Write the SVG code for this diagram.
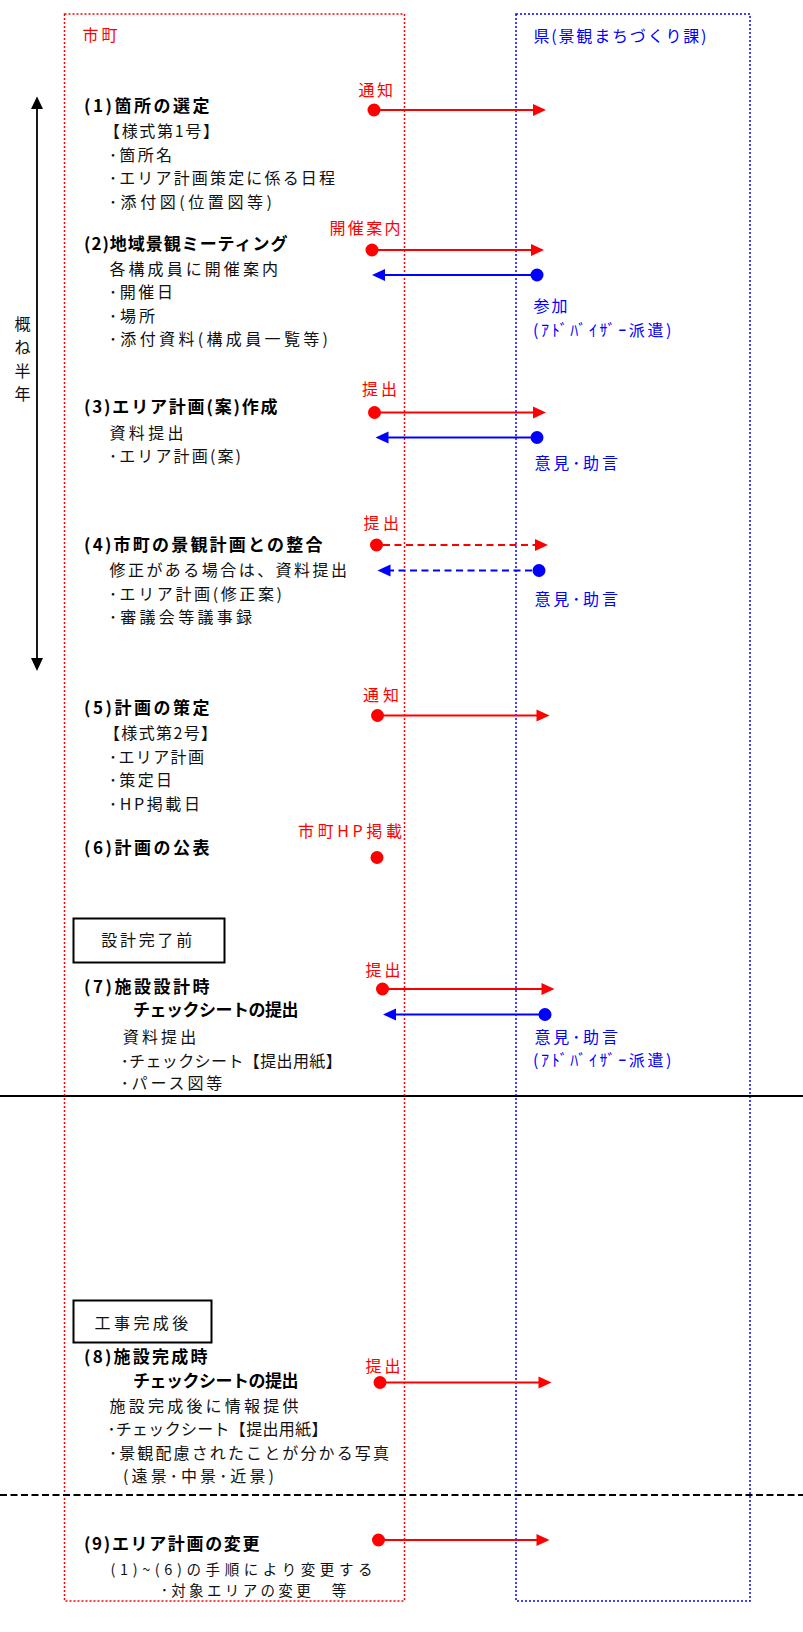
<svg xmlns="http://www.w3.org/2000/svg" width="803" height="1632" viewBox="0 0 803 1632">
<defs>
<style>
text{font-family:"Noto Sans CJK JP","Noto Sans CJK SC",sans-serif;font-size:16px;letter-spacing:2px;fill:#111}
.t{font-weight:700;font-size:17px;letter-spacing:1.5px;fill:#000}
.r{fill:#ff0000;letter-spacing:1px}
.b{fill:#0000ff;letter-spacing:1.5px}
.s{font-size:14.5px}
.rl{stroke:#ff0000;stroke-width:2;fill:none}
.bl{stroke:#0000ff;stroke-width:2;fill:none}
.dash{stroke-dasharray:7 4.5}
.rf{fill:#ff0000}
.bf{fill:#0000ff}
.box{fill:#fff;stroke:#000;stroke-width:2}
.lane{fill:none;stroke-width:1.5;stroke-dasharray:2 2}
</style>
</defs>
<rect width="803" height="1632" fill="#fff"/>

<g id="lane-shichou">
<rect x="64.5" y="14" width="340" height="1587" class="lane" stroke="#ff0000"/>
<text x="82.5" y="41" class="r" textLength="36">市町</text>
</g>
<g id="lane-ken">
<rect x="516" y="14" width="234" height="1587" class="lane" stroke="#0000ff"/>
<text x="533.5" y="42" class="b" textLength="174.5">県(景観まちづくり課)</text>
</g>

<g id="period">
<line x1="37" y1="108" x2="37" y2="660" stroke="#000" stroke-width="1.8"/>
<polygon points="37,96.5 31,109 43,109" fill="#000"/>
<polygon points="37,671 31,658 43,658" fill="#000"/>
<text x="22.5" y="329.5" text-anchor="middle" style="letter-spacing:0">概</text>
<text x="22.5" y="353" text-anchor="middle" style="letter-spacing:0">ね</text>
<text x="22.5" y="376.5" text-anchor="middle" style="letter-spacing:0">半</text>
<text x="22.5" y="400" text-anchor="middle" style="letter-spacing:0">年</text>
</g>

<g id="step1">
<text x="84" y="111.5" class="t" textLength="127">(1)箇所の選定</text>
<text x="104" y="137" textLength="117">【様式第1号】</text>
<text x="109" y="160.5" textLength="65">･箇所名</text>
<text x="109" y="184" textLength="228">･エリア計画策定に係る日程</text>
<text x="109" y="207.5" textLength="165">･添付図(位置図等)</text>
<text x="358.5" y="96" class="r" textLength="35.5">通知</text>
</g>

<g id="step2">
<text x="84" y="250" class="t" textLength="205">(2)地域景観ミーティング</text>
<text x="109.5" y="274.5" textLength="170.5">各構成員に開催案内</text>
<text x="109" y="298" textLength="66">･開催日</text>
<text x="109" y="321.5" textLength="48">･場所</text>
<text x="109" y="345" textLength="221">･添付資料(構成員一覧等)</text>
<text x="329.5" y="234" class="r" textLength="72">開催案内</text>
<text x="533.5" y="312" class="b" textLength="35.5">参加</text>
<text x="533" y="335.5" class="b" textLength="140">(ｱﾄﾞﾊﾞｲｻﾞｰ派遣)</text>
</g>

<g id="step3">
<text x="84" y="413" class="t" textLength="195">(3)エリア計画(案)作成</text>
<text x="109.5" y="439" textLength="76">資料提出</text>
<text x="109" y="462" textLength="134">･エリア計画(案)</text>
<text x="362" y="394.5" class="r" textLength="36">提出</text>
<text x="534.5" y="468.5" class="b" textLength="85">意見･助言</text>
</g>

<g id="step4">
<text x="84" y="550.5" class="t" textLength="240">(4)市町の景観計画との整合</text>
<text x="109.5" y="575.5" textLength="239.5">修正がある場合は、資料提出</text>
<text x="109" y="599.5" textLength="175">･エリア計画(修正案)</text>
<text x="109" y="622.5" textLength="145">･審議会等議事録</text>
<text x="363.5" y="528.5" class="r" textLength="36.5">提出</text>
<text x="534.5" y="604.5" class="b" textLength="85">意見･助言</text>
</g>

<g id="step5">
<text x="84" y="714" class="t" textLength="127">(5)計画の策定</text>
<text x="104" y="738.5" textLength="115">【様式第2号】</text>
<text x="109" y="762.5" textLength="97">･エリア計画</text>
<text x="109" y="786" textLength="65">･策定日</text>
<text x="109" y="809.5" textLength="93">･HP掲載日</text>
<text x="363" y="700.5" class="r" textLength="37">通知</text>
</g>

<g id="step6">
<text x="84" y="854" class="t" textLength="127">(6)計画の公表</text>
<text x="298" y="837" class="r" textLength="105">市町HP掲載</text>
</g>

<g id="box-sekkei">
<rect x="73.5" y="918.5" width="151" height="44" class="box"/>
<text x="101.2" y="946" textLength="93">設計完了前</text>
</g>

<g id="step7">
<text x="84" y="992.5" class="t" textLength="127">(7)施設設計時</text>
<text x="133" y="1015.5" class="t" textLength="167">チェックシートの提出</text>
<text x="122.8" y="1042.5" textLength="75.5">資料提出</text>
<text x="120.7" y="1066.5" textLength="223">･チェックシート【提出用紙】</text>
<text x="120.7" y="1088.5" textLength="103.6">･パース図等</text>
<text x="365.5" y="975.5" class="r" textLength="36">提出</text>
<text x="534.5" y="1042.5" class="b" textLength="85">意見･助言</text>
<text x="533" y="1065.5" class="b" textLength="140">(ｱﾄﾞﾊﾞｲｻﾞｰ派遣)</text>
</g>

<g id="box-kouji">
<rect x="73.5" y="1300.5" width="138" height="42" class="box"/>
<text x="94.5" y="1328.5" textLength="95.8">工事完成後</text>
</g>

<g id="step8">
<text x="84" y="1363" class="t" textLength="125">(8)施設完成時</text>
<text x="133" y="1386.5" class="t" textLength="167">チェックシートの提出</text>
<text x="109.5" y="1412" textLength="191">施設完成後に情報提供</text>
<text x="107.4" y="1434.5" textLength="222">･チェックシート【提出用紙】</text>
<text x="109" y="1458.5" textLength="282">･景観配慮されたことが分かる写真</text>
<text x="123" y="1482" textLength="153">(遠景･中景･近景)</text>
<text x="365.5" y="1371.5" class="r" textLength="36">提出</text>
</g>

<g id="step9">
<text x="84" y="1550" class="t" textLength="177">(9)エリア計画の変更</text>
<text x="110.5" y="1575" class="s" textLength="264">(1)~(6)の手順により変更する</text>
<text x="160.7" y="1596" class="s" textLength="187.6">･対象エリアの変更　等</text>
</g>

<g id="separators">
<line x1="0" y1="1096" x2="803" y2="1096" stroke="#000" stroke-width="2"/>
<line x1="0" y1="1495" x2="803" y2="1495" stroke="#000" stroke-width="2" stroke-dasharray="7 3.5"/>
</g>

<g id="connectors">
<line x1="374" y1="110" x2="534" y2="110" class="rl"/>
<circle cx="374" cy="110" r="6.5" class="rf"/>
<polygon points="533,104 546,110 533,116" class="rf"/>
<line x1="372" y1="250" x2="532" y2="250" class="rl"/>
<circle cx="372" cy="250" r="6.5" class="rf"/>
<polygon points="531,244 544,250 531,256" class="rf"/>
<line x1="537" y1="275" x2="384" y2="275" class="bl"/>
<circle cx="537" cy="275" r="6.5" class="bf"/>
<polygon points="385,269 372,275 385,281" class="bf"/>
<line x1="374.5" y1="412.5" x2="534" y2="412.5" class="rl"/>
<circle cx="374.5" cy="412.5" r="6.5" class="rf"/>
<polygon points="533,406.5 546,412.5 533,418.5" class="rf"/>
<line x1="537" y1="437.5" x2="387" y2="437.5" class="bl"/>
<circle cx="537" cy="437.5" r="6.5" class="bf"/>
<polygon points="388.5,431.5 375.5,437.5 388.5,443.5" class="bf"/>
<line x1="383" y1="545" x2="535" y2="545" class="rl dash"/>
<circle cx="376.5" cy="545" r="6.5" class="rf"/>
<polygon points="535,539 548,545 535,551" class="rf"/>
<line x1="532" y1="570.5" x2="389" y2="570.5" class="bl dash"/>
<circle cx="539" cy="570.5" r="6.5" class="bf"/>
<polygon points="390.5,564.5 377.5,570.5 390.5,576.5" class="bf"/>
<line x1="377.5" y1="715.5" x2="537" y2="715.5" class="rl"/>
<circle cx="377.5" cy="715.5" r="6.5" class="rf"/>
<polygon points="536.5,709.5 549.5,715.5 536.5,721.5" class="rf"/>
<circle cx="377" cy="857.5" r="6.5" class="rf"/>
<line x1="382.5" y1="989" x2="542" y2="989" class="rl"/>
<circle cx="382.5" cy="989" r="6.5" class="rf"/>
<polygon points="541.5,983 554.5,989 541.5,995" class="rf"/>
<line x1="545" y1="1014.5" x2="395" y2="1014.5" class="bl"/>
<circle cx="545" cy="1014.5" r="6.5" class="bf"/>
<polygon points="396,1008.5 383,1014.5 396,1020.5" class="bf"/>
<line x1="380" y1="1382.5" x2="539" y2="1382.5" class="rl"/>
<circle cx="380" cy="1382.5" r="6.5" class="rf"/>
<polygon points="538.5,1376.5 551.5,1382.5 538.5,1388.5" class="rf"/>
<line x1="378.5" y1="1540" x2="537" y2="1540" class="rl"/>
<circle cx="378.5" cy="1540" r="6.5" class="rf"/>
<polygon points="536.5,1534 549.5,1540 536.5,1546" class="rf"/>
</g>
</svg>
